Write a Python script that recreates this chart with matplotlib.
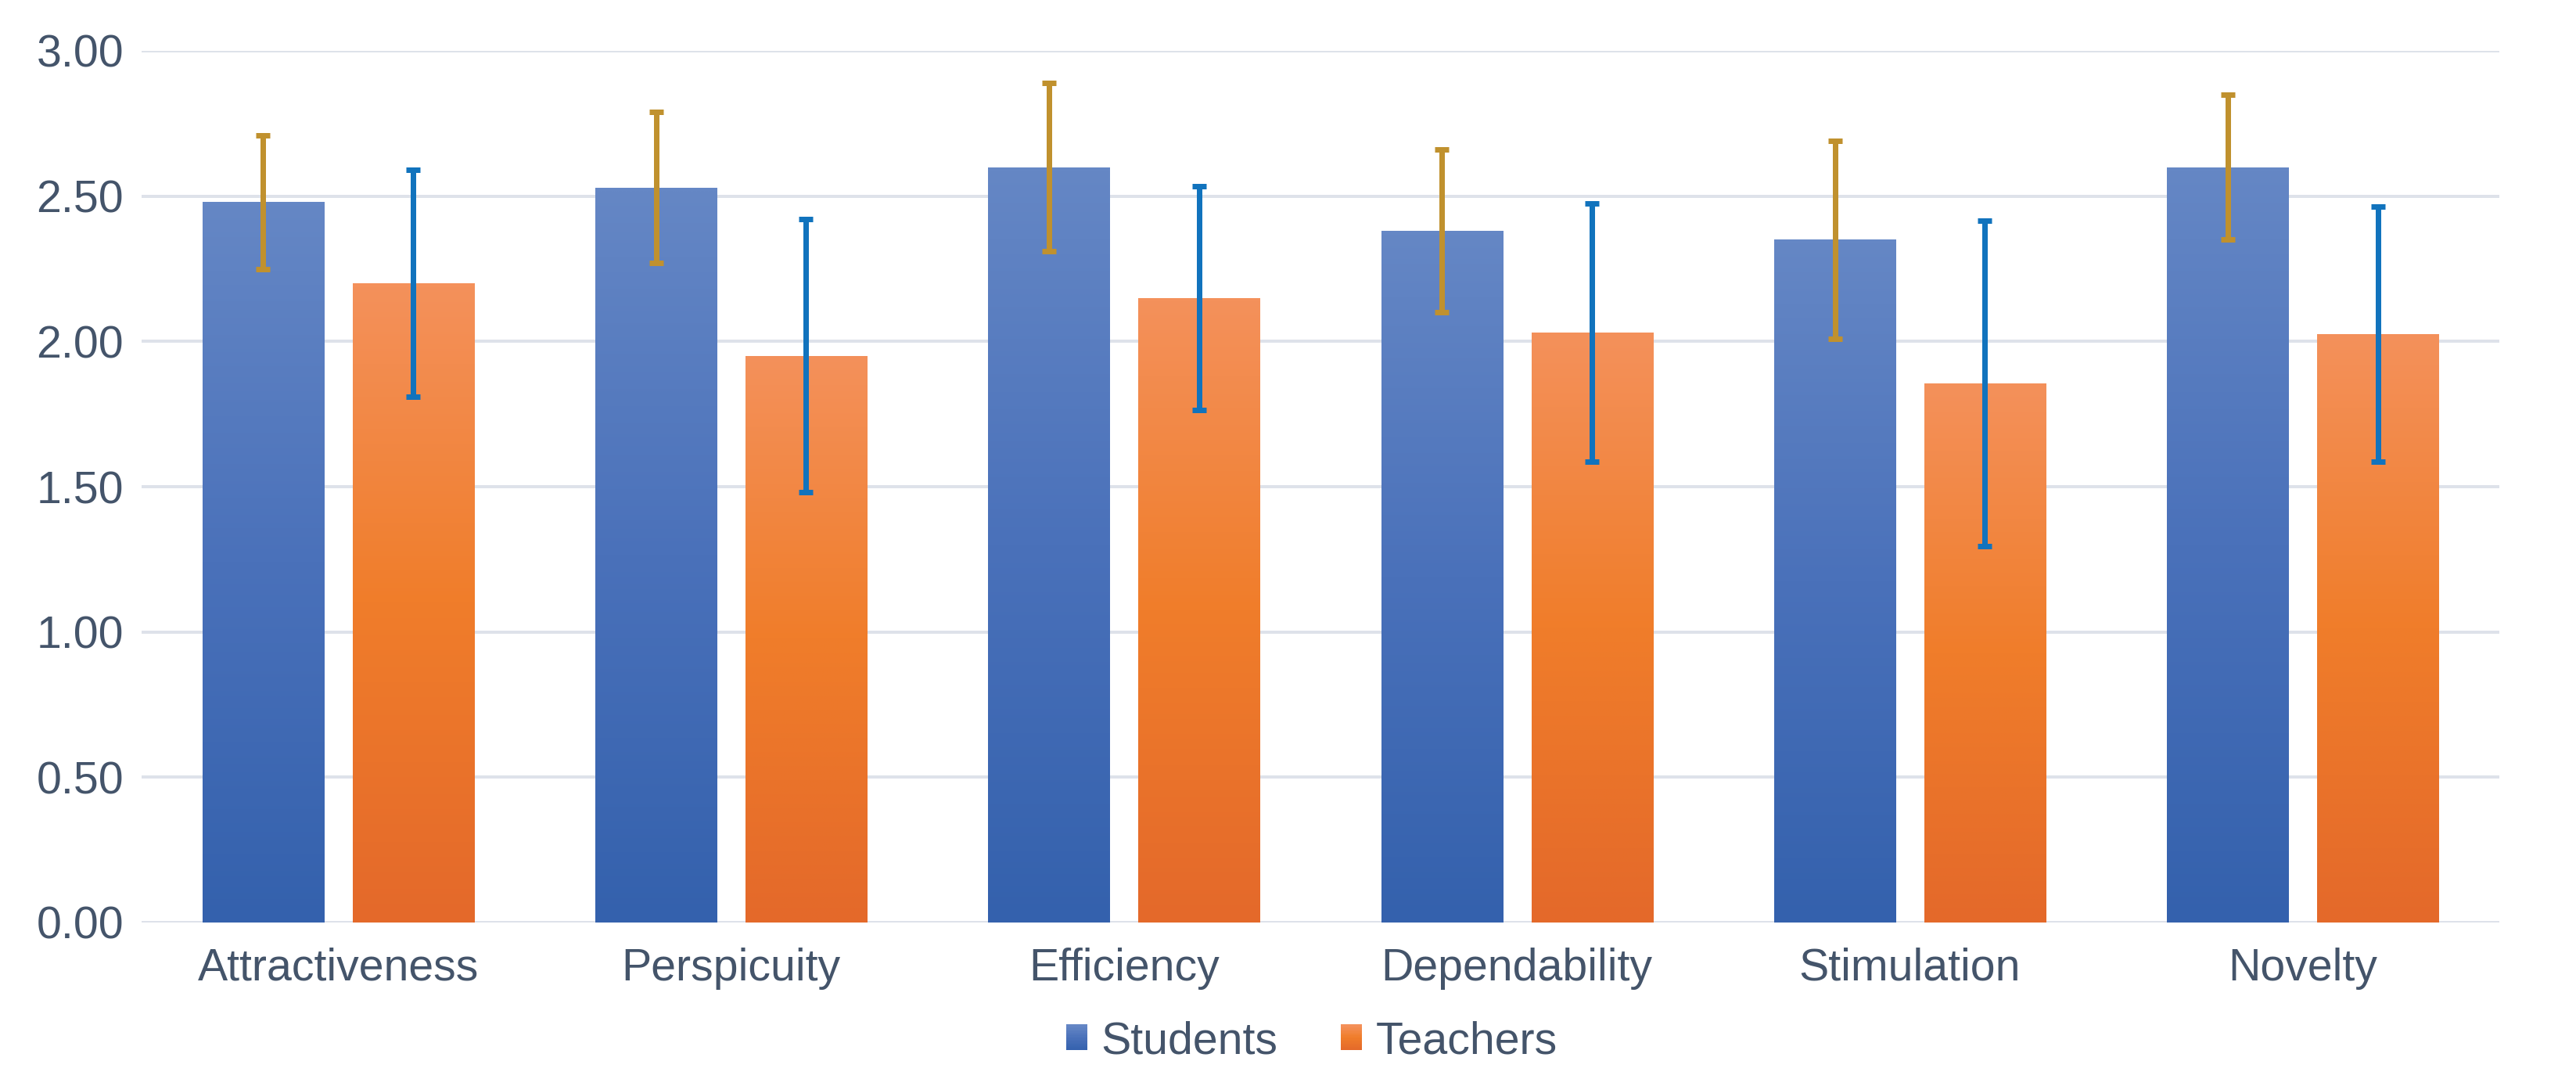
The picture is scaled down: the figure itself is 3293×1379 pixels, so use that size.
import numpy as np
import matplotlib
matplotlib.use("Agg")
import matplotlib.pyplot as plt
from matplotlib.colors import LinearSegmentedColormap
from matplotlib.patches import Rectangle
from matplotlib.legend_handler import HandlerBase

# ---- data ----
categories = ["Attractiveness", "Perspicuity", "Efficiency", "Dependability", "Stimulation", "Novelty"]
students = [2.48, 2.53, 2.60, 2.38, 2.35, 2.60]
students_err = [0.23, 0.26, 0.29, 0.28, 0.34, 0.25]
teachers = [2.20, 1.95, 2.15, 2.03, 1.855, 2.025]
teachers_err = [0.39, 0.47, 0.385, 0.445, 0.56, 0.44]
series_names = ["Students", "Teachers"]
yticks = [0.0, 0.5, 1.0, 1.5, 2.0, 2.5, 3.0]

# ---- style ----
plt.rcParams['font.family'] = ['Liberation Sans', 'DejaVu Sans']
TXT = "#44546A"
GRID = "#DEE2EA"
FS = 20.6
blue_cmap = LinearSegmentedColormap.from_list("b", [(0, "#6587C5"), (0.5, "#4A71BA"), (1, "#3461AD")])
orange_cmap = LinearSegmentedColormap.from_list("o", [(0, "#F4915B"), (0.5, "#F07D2A"), (1, "#E4692A")])

W, H, DPI = 3293, 1379, 200
fig = plt.figure(figsize=(W / DPI, H / DPI), dpi=DPI)
ax = fig.add_axes([181 / W, 1 - 1179 / H, (3195 - 181) / W, (1179 - 65) / H])

x = np.arange(len(categories))
bw = 0.309
off = 0.191

grad = np.linspace(0, 1, 256).reshape(-1, 1)

def gradient_bars(xpos, vals, cmap):
    bars = ax.bar(xpos, vals, width=bw, color="none", edgecolor="none", zorder=2)
    for b in bars:
        x0, y0 = b.get_x(), b.get_y()
        w, h = b.get_width(), b.get_height()
        im = ax.imshow(grad, cmap=cmap, aspect="auto", extent=(x0, x0 + w, y0, y0 + h),
                       origin="upper", zorder=2, interpolation="bilinear")
        im.set_clip_path(b)
    return bars

gradient_bars(x - off, students, blue_cmap)
gradient_bars(x + off, teachers, orange_cmap)

lw = 7 * 72 / DPI
cap = 9 * 72 / DPI
ax.errorbar(x - off, students, yerr=students_err, fmt="none", ecolor="#C0912E",
            elinewidth=lw, capsize=cap, capthick=lw, zorder=3)
ax.errorbar(x + off, teachers, yerr=teachers_err, fmt="none", ecolor="#1173BD",
            elinewidth=lw, capsize=cap, capthick=lw, zorder=3)

ax.set_xlim(-0.5, len(categories) - 0.5)
ax.set_ylim(0, 3.0)
ax.set_yticks(yticks)
ax.set_yticklabels([f"{v:.2f}" for v in yticks])
ax.set_xticks(x)
ax.set_xticklabels(categories)
ax.tick_params(axis="both", length=0, labelsize=FS, labelcolor=TXT)
ax.tick_params(axis="y", pad=8.3)
ax.tick_params(axis="x", pad=11.5)
for s in ax.spines.values():
    s.set_visible(False)
ax.grid(axis="y", color=GRID, linewidth=4 * 72 / DPI, zorder=0)
ax.set_axisbelow(True)


class GradHandler(HandlerBase):
    def __init__(self, cmap):
        super().__init__()
        self.cmap = cmap

    def create_artists(self, legend, orig_handle, xdescent, ydescent, width, height, fontsize, trans):
        n = 24
        arts = []
        for i in range(n):
            c = self.cmap(1 - (i + 0.5) / n)
            r = Rectangle((-xdescent, -ydescent + height * i / n), width, height / n + 0.3,
                          facecolor=c, edgecolor="none", transform=trans)
            arts.append(r)
        return arts


h1 = Rectangle((0, 0), 1, 1)
h2 = Rectangle((0, 0), 1.0, 1.0)
leg = fig.legend([h1, h2], series_names, loc="center", bbox_to_anchor=(0.5093, 0.0345),
                 bbox_transform=fig.transFigure, ncol=2, frameon=False, fontsize=FS,
                 handlelength=0.47, handleheight=0.47, handletextpad=0.31, columnspacing=1.41,
                 handler_map={h1: GradHandler(blue_cmap), h2: GradHandler(orange_cmap)},
                 borderpad=0.2)
for t in leg.get_texts():
    t.set_color(TXT)

fig.savefig("out.png", dpi=DPI, facecolor="white")
